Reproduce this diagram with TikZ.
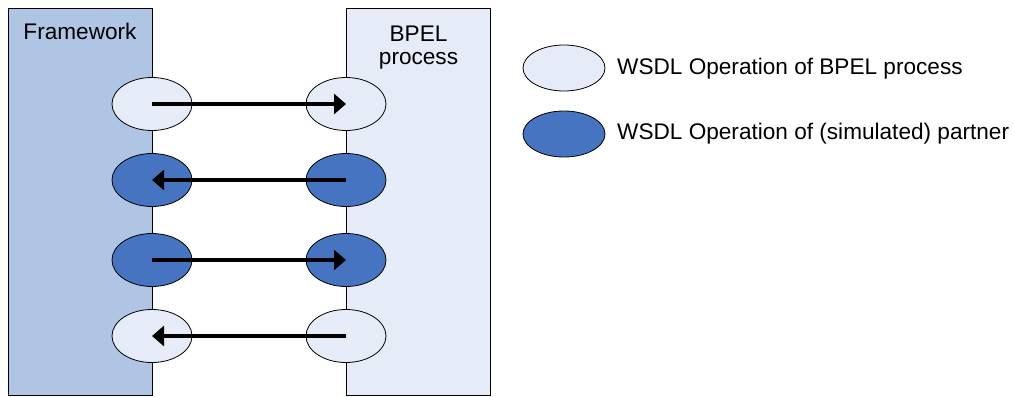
\documentclass[tikz,border=0pt]{standalone}
\usepackage{fontspec}
\setmainfont{Liberation Sans}
\usetikzlibrary{shapes.geometric,arrows.meta}
\definecolor{fwfill}{HTML}{B0C5E3}
\definecolor{bpfill}{HTML}{E6ECF7}
\definecolor{oplight}{HTML}{E6ECF7}
\definecolor{opdark}{HTML}{4674C1}
\begin{document}
\begin{tikzpicture}[x=1pt,y=-1pt,
  lane/.style={draw, line width=0.8pt, inner sep=0pt, minimum width=144pt, minimum height=387pt},
  op/.style={ellipse, draw, line width=0.8pt, inner sep=0pt, minimum width=80pt, minimum height=53pt},
  oplightstyle/.style={op, fill=oplight},
  opdarkstyle/.style={op, fill=opdark},
  legop/.style={ellipse, draw, line width=0.8pt, inner sep=0pt, minimum width=82pt, minimum height=46pt},
  msg/.style={line width=3.2pt, -{Triangle[length=12pt,width=20pt]}},
  lbl/.style={font=\fontsize{22.6}{24}\selectfont, inner sep=0pt}]
\useasboundingbox (0,0) rectangle (1014,396);

% swim lanes
\node[lane, fill=fwfill] (fw) at (80,201.5) {};
\node[lane, fill=bpfill] (bp) at (418.5,201.5) {};
\node[lbl, anchor=base] (fwlabel) at (80,40) {Framework};
\node[lbl, anchor=base, align=center] (bplabel) at (418.5,65) {BPEL\\process};

% operations
\node[oplightstyle] (f1) at (152,104) {};
\node[oplightstyle] (b1) at (346,104) {};
\node[opdarkstyle]  (f2) at (152,180) {};
\node[opdarkstyle]  (b2) at (346,180) {};
\node[opdarkstyle]  (f3) at (152,260) {};
\node[opdarkstyle]  (b3) at (346,260) {};
\node[oplightstyle] (f4) at (152,336) {};
\node[oplightstyle] (b4) at (346,336) {};

% messages
\draw[msg] (f1.center) -- (b1.center);
\draw[msg] (b2.center) -- (f2.center);
\draw[msg] (f3.center) -- (b3.center);
\draw[msg] (b4.center) -- (f4.center);

% legend
\node[legop, fill=oplight] (leg1) at (564,68) {};
\node[legop, fill=opdark]  (leg2) at (564,134) {};
\node[lbl, anchor=west] (leg1text) at (617,69) {WSDL Operation of BPEL process};
\node[lbl, anchor=west] (leg2text) at (617,134) {WSDL Operation of (simulated) partner};
\end{tikzpicture}
\end{document}
